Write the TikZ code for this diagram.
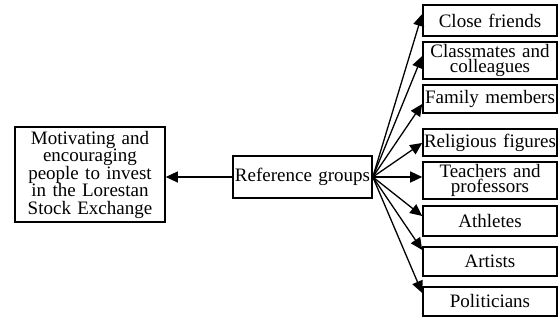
\documentclass[tikz,border=0pt]{standalone}
\usepackage{fontspec}
\setmainfont{Liberation Serif}
\usetikzlibrary{arrows.meta,calc}
\lineskiplimit=-100pt
\begin{document}
\begin{tikzpicture}[x=1pt,y=-1pt,
  box/.style={draw,line width=1.6pt,inner sep=0pt,align=center,text width=#1,
    font=\fontsize{19}{14.5}\selectfont},
  gbox/.style={box=134pt,minimum width=134pt,minimum height=#1},
  arr/.style={line width=1.3pt,-{Triangle[length=12pt,width=11pt]}}]
\useasboundingbox (0,0) rectangle (558,320);
\node[box=150pt,minimum width=150pt,minimum height=95pt,
  font=\fontsize{19}{17.5}\selectfont] (mot) at (90,174.5)
  {Motivating and\\encouraging\\people to invest\\in the Lorestan\\Stock Exchange};
\node[box=139pt,minimum width=139pt,minimum height=42pt] (ref) at (302.5,177) {Reference groups};
\node[gbox=31pt] (cf) at (490,20.5) {Close friends};
\node[gbox=37pt] (cm) at (490,60.5) {Classmates and\\colleagues};
\node[gbox=28pt] (fm) at (490,99) {Family members};
\node[gbox=27pt] (rf) at (490,142.5) {Religious figures};
\node[gbox=37pt] (tp) at (490,180.5) {Teachers and\\professors};
\node[gbox=30pt] (at) at (490,221) {Athletes};
\node[gbox=29pt] (ar) at (490,261.5) {Artists};
\node[gbox=29pt] (po) at (490,301.5) {Politicians};
\draw[arr] (ref.west) -- (ref.west -| mot.east);
\draw[arr] (ref.east) -- ($(cf.west)+(0,-6.5)$);
\draw[arr] (ref.east) -- ($(cm.west)+(0,-4.5)$);
\draw[arr] (ref.east) -- ($(fm.west)+(0,5)$);
\draw[arr] (ref.east) -- ($(rf.west)+(0,0.5)$);
\draw[arr] (ref.east) -- ($(tp.west)+(0,-3.5)$);
\draw[arr] (ref.east) -- ($(at.west)+(0,-5)$);
\draw[arr] (ref.east) -- ($(ar.west)+(0,-11.5)$);
\draw[arr] (ref.east) -- ($(po.west)+(0,-8.5)$);
\end{tikzpicture}
\end{document}
